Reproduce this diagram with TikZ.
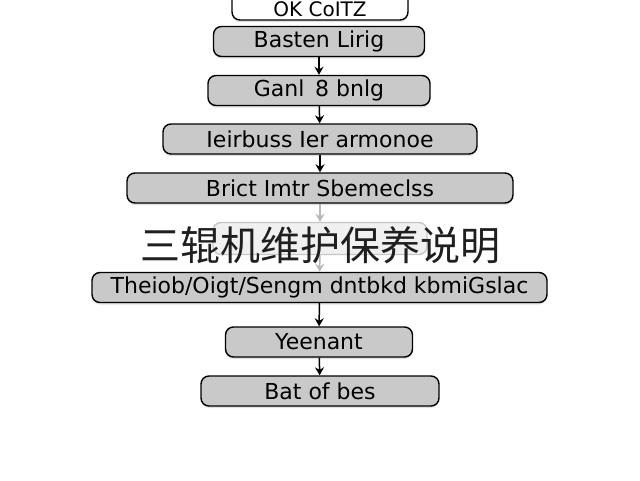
\documentclass[tikz,border=0pt]{standalone}
\usepackage{fontspec}
\setmainfont{DejaVu Sans}
\newfontfamily\cjk{Noto Sans CJK SC}
\usepackage{tikz}
\usetikzlibrary{arrows.meta,shadows}

\tikzset{
	stepbox/.style={draw=black, line width=1.4pt, rounded corners=8pt, fill=black!21,
		minimum height=30pt, inner sep=0pt, font=\fontsize{22}{24}\selectfont,
		drop shadow={shadow xshift=0pt, shadow yshift=-2pt, fill=black!20, opacity=0.6}},
	fadebox/.style={draw=black!22, line width=1.4pt, rounded corners=8pt, fill=black!6,
		minimum height=32pt, inner sep=0pt},
	flow/.style={-{Stealth[length=8pt,width=9pt]}, line width=1.5pt, black},
	fadeflow/.style={-{Stealth[length=8pt,width=9pt]}, line width=1.5pt, black!28}
}

\begin{document}
\begin{tikzpicture}[x=1pt, y=-1pt]
			%%%%% START %%%%%
			\useasboundingbox[fill=white] (0, 0) rectangle (640, 480);
			
			\node[stepbox, fill=white, minimum width=176pt] (okcoitz) at (320, 5) {};
			\node[anchor=base, inner sep=0pt, font=\fontsize{20}{24}\selectfont] (oklabel) at (320, 16) {OK CoITZ};
			\node[stepbox, minimum width=211pt] (basten) at (319, 41.5) {Basten Lirig};
			\node[stepbox, minimum width=222pt] (ganl) at (319, 90.5) {Ganl \,8 bnlg};
			\node[stepbox, minimum width=314pt] (ieirbuss) at (320, 139) {Ieirbuss Ier armonoe};
			\node[stepbox, minimum width=386pt] (brict) at (320, 188) {Brict Imtr Sbemeclss};
			
			\node[fadebox, minimum width=214pt] (faded) at (320, 238.5) {};
			
			\node[stepbox, minimum width=455pt] (theiob) at (319.5, 287.5) {Theiob/Oigt/Sengm dntbkd kbmiGslac};
			\node[stepbox, minimum width=187pt] (yeenant) at (319, 342) {Yeenant};
			\node[stepbox, minimum width=238pt] (batofbes) at (320, 391) {Bat of bes};
			
			\draw[flow] (basten) -- (ganl);
			\draw[flow] (ganl) -- (ieirbuss);
			\draw[flow] (ieirbuss) -- (brict);
			\draw[fadeflow] (brict) -- (faded);
			\draw[fadeflow] (faded) -- (theiob);
			\draw[flow] (theiob) -- (yeenant);
			\draw[flow] (yeenant) -- (batofbes);
			
			\node[text=black!88, font=\cjk\fontsize{40}{44}\selectfont, inner sep=0pt] (title) at (320, 245) {三辊机维护保养说明};
			
			%%%%% END %%%%%
\end{tikzpicture}
\end{document}
